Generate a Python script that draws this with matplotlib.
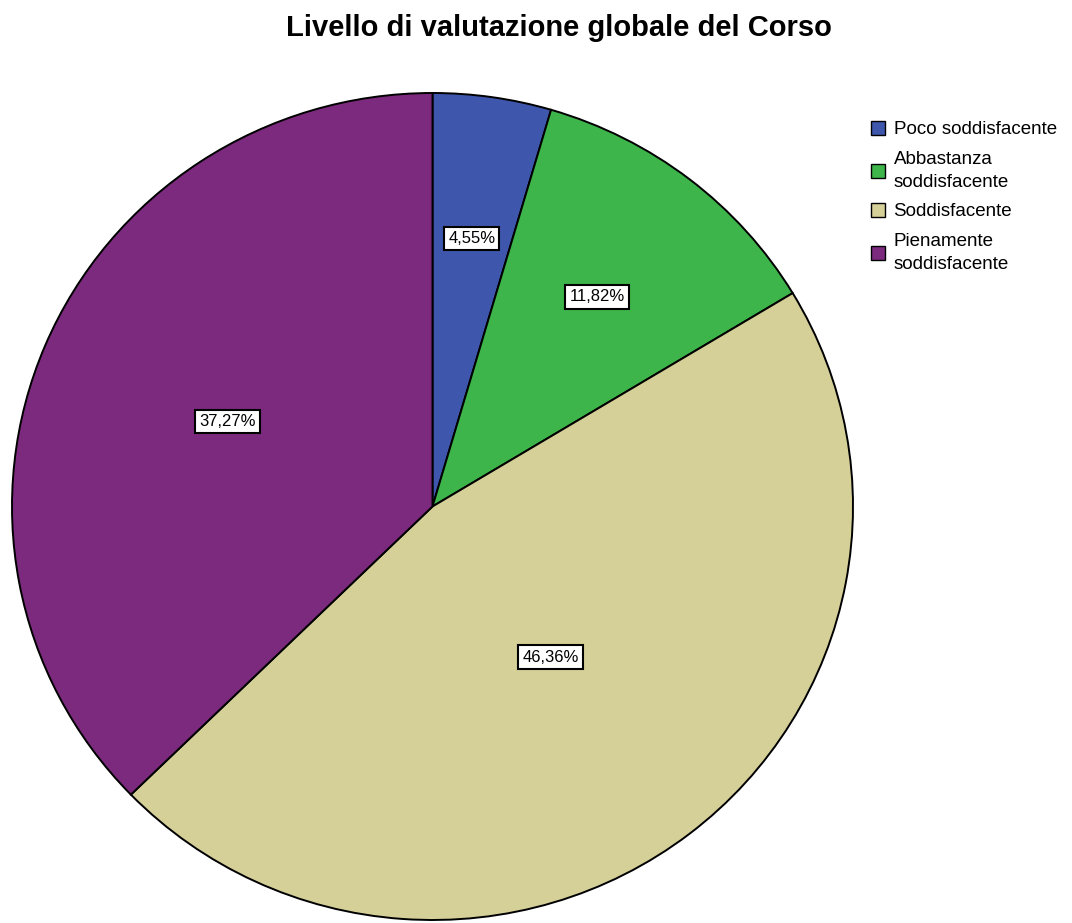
import matplotlib
matplotlib.use("Agg")
import matplotlib.pyplot as plt
import matplotlib.patches as mpatches
import numpy as np

categories = ["Poco soddisfacente", "Abbastanza\nsoddisfacente", "Soddisfacente", "Pienamente\nsoddisfacente"]
values = [4.55, 11.82, 46.36, 37.27]
colors = ["#3E57AC", "#3DB54A", "#D5CF98", "#7C2A7E"]
label_radius = [0.655, 0.64, 0.46, 0.53]
title = "Livello di valutazione globale del Corso"

plt.rcParams['font.family'] = ['Liberation Sans', 'DejaVu Sans']

W, H = 1072, 923
fig = plt.figure(figsize=(W / 100, H / 100), dpi=100)
ax = fig.add_axes([0, 0, 1, 1])

cx, cy = 432.5, 506.5  # pixel center (from top)
rx, ry = 420.5, 413.5

wedges, _ = ax.pie(values, colors=colors, startangle=90, counterclock=False,
                   radius=1, center=(0, 0),
                   wedgeprops=dict(edgecolor="black", linewidth=1.4))
ax.set_aspect('auto')
ax.set_xlim(-cx / rx, (W - cx) / rx)
ax.set_ylim(-(H - cy) / ry, cy / ry)
ax.axis('off')

for w, v, r in zip(wedges, values, label_radius):
    ang = np.deg2rad((w.theta1 + w.theta2) / 2)
    ax.text(r * np.cos(ang), r * np.sin(ang), f"{v:.2f}".replace('.', ',') + "%",
            ha='center', va='center', fontsize=12,
            bbox=dict(boxstyle='square,pad=0.25', facecolor='white', edgecolor='black', linewidth=1.5))

fig.text(559 / W, 1 - 36 / H, title, ha='center', va='baseline', fontsize=21, fontweight='bold')

handles = [mpatches.Patch(facecolor=c, edgecolor='black', linewidth=1.0) for c in colors]
leg = fig.legend(handles, categories, loc='upper left', bbox_to_anchor=(871 / W, 1 - 121 / H),
                 frameon=False, fontsize=13.5, handlelength=0.75, handleheight=0.75,
                 handletextpad=0.45, labelspacing=0.66, borderaxespad=0, borderpad=0)
for t in leg.get_texts():
    t.set_linespacing(1.45)

fig.savefig("out.png", dpi=100)
